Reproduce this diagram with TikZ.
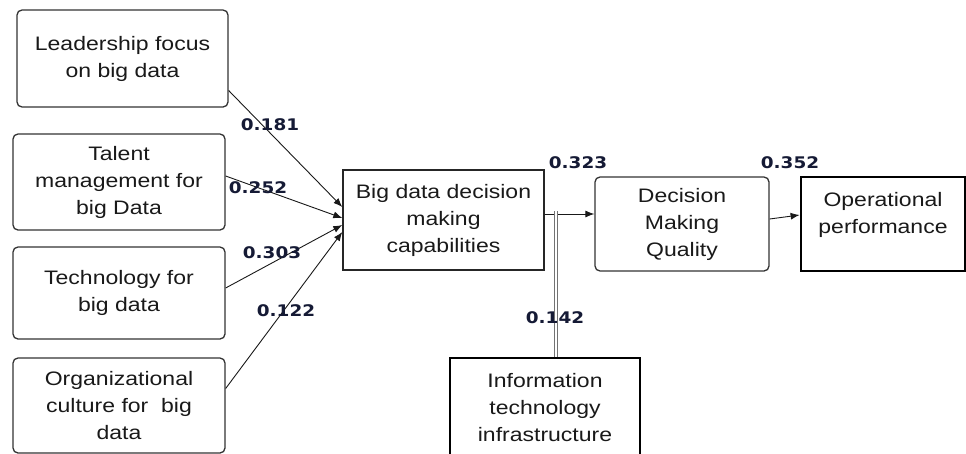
\documentclass[tikz,border=0pt]{standalone}
\usepackage{fontspec}
\setmainfont{Liberation Sans}
\newfontfamily\boxfont[FakeStretch=1.18]{Liberation Sans}
\newfontfamily\numfont[FakeStretch=1.15]{DejaVu Sans}
\usetikzlibrary{arrows.meta,calc}
\definecolor{numcol}{HTML}{151A35}
\tikzset{
  basebox/.style={align=center, inner sep=0pt, text=black!90,
    font=\boxfont\fontsize{19.5}{27}\selectfont},
  rbox/.style={basebox, draw=black!80, line width=1.3pt, rounded corners=5pt},
  sbox/.style={basebox, draw=black!85, line width=1.4pt},
  thickbox/.style={basebox, draw=black, line width=2.8pt},
  lbl/.style={font=\numfont\bfseries\fontsize{16}{18}\selectfont, text=numcol, inner sep=0pt},
  arr/.style={-{Latex[length=9pt,width=7pt]}, line width=0.9pt, draw=black!90},
  dbl/.style={draw=black!55, double=white, double distance=2.2pt, line width=0.6pt}
}
\begin{document}
\begin{tikzpicture}[x=1pt,y=-1pt]
\useasboundingbox (0,0) rectangle (966,453);
\fill[white] (0,0) rectangle (966,453);

\node[rbox, minimum width=211pt, minimum height=97pt] (lead) at (122.5,58.5) {Leadership focus\\on big data};
\node[rbox, minimum width=212pt, minimum height=96pt] (talent) at (119,182) {Talent\\management for\\big Data};
\node[rbox, minimum width=212pt, minimum height=92pt] (tech) at (119,293) {Technology for\\big data};
\node[rbox, minimum width=212pt, minimum height=95pt] (org) at (119,405.5) {Organizational\\culture for\ \ big\\data};

\node[sbox, minimum width=201pt, minimum height=100pt] (bddm) at (443.5,220) {Big data decision\\making\\capabilities};
\node[rbox, minimum width=174pt, minimum height=94pt] (dmq) at (682,224) {Decision\\Making\\Quality};
\node[thickbox, minimum width=164pt, minimum height=94pt, text depth=22pt] (op) at (883,224) {Operational\\performance};
\node[thickbox, minimum width=190pt, minimum height=100pt] (itinfra) at (545,408) {Information\\technology\\infrastructure};

\draw[arr] ([yshift=-32pt]lead.east) -- ([yshift=13pt]bddm.west);
\draw[arr] ([yshift=6pt]talent.east) -- ([yshift=2pt]bddm.west);
\draw[arr] ([yshift=5pt]tech.east) -- ([yshift=-5pt]bddm.west);
\draw[arr] ([yshift=17pt]org.east) -- ([yshift=-12pt]bddm.west);

\draw[arr] ([yshift=6pt]bddm.east) -- ([yshift=10pt]dmq.west);
\draw[arr] ([yshift=5pt]dmq.east) -- ([yshift=9pt]op.west);

\coordinate (mod) at (556,211);
\draw[dbl] ([xshift=11pt]itinfra.north) -- (mod);

\node[lbl] (l1) at (270,125) {0.181};
\node[lbl] (l2) at (258,188) {0.252};
\node[lbl] (l3) at (272,253) {0.303};
\node[lbl] (l4) at (286,311) {0.122};
\node[lbl] (l5) at (578,163) {0.323};
\node[lbl] (l6) at (790,163) {0.352};
\node[lbl] (l7) at (555,318) {0.142};
\end{tikzpicture}
\end{document}
